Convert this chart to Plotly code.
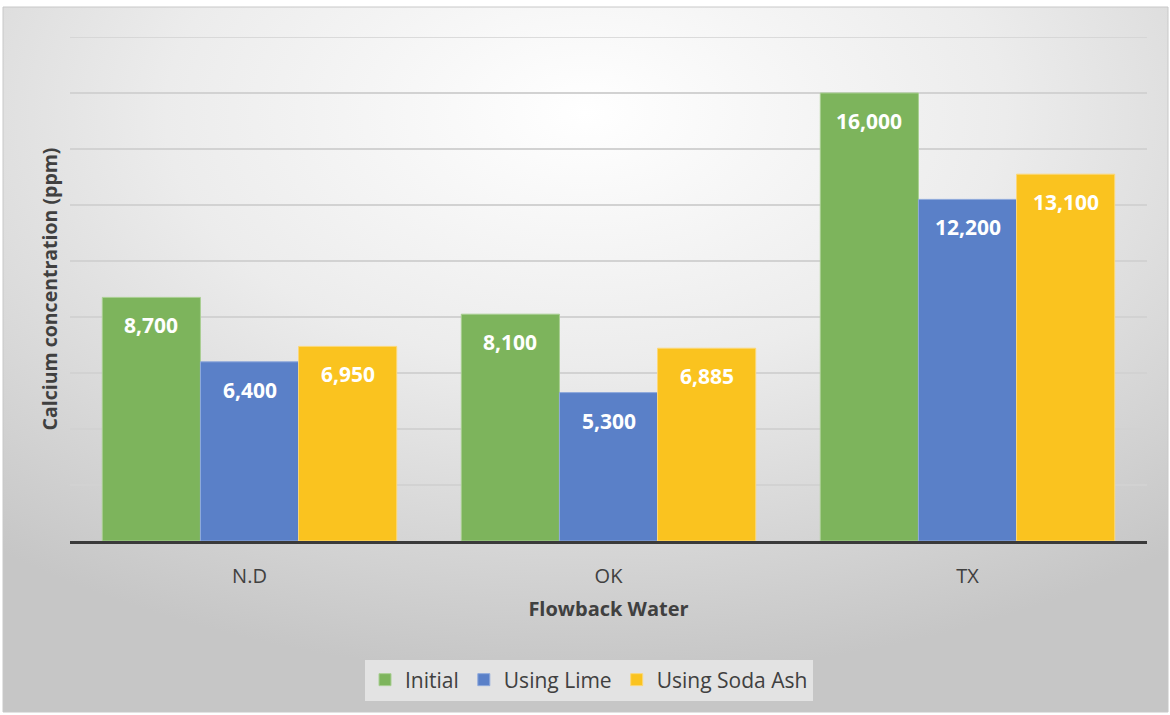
import base64
import plotly.graph_objects as go

categories = ["N.D", "OK", "TX"]
series_names = ["Initial", "Using Lime", "Using Soda Ash"]
initial = [8700, 8100, 16000]
lime = [6400, 5300, 12200]
soda = [6950, 6885, 13100]
series_values = [initial, lime, soda]
colors = ["#7DB45C", "#5A80C8", "#FAC31F"]
edge_colors = ["#A9CF92", "#8FA9DC", "#FCD877"]

W, H = 1170, 715
L, R, T, B = 70, 23, 37, 174
pw, ph = W - L - R, H - T - B
bargap = 0.18
y_max = 18000

fig = go.Figure()
for name, vals, c, ec in zip(series_names, series_values, colors, edge_colors):
    fig.add_trace(go.Bar(name=name, x=categories, y=vals, marker=dict(color=c, line=dict(color=ec, width=1))))

# data labels
cat_px = pw / len(categories)
bar_px = cat_px * (1 - bargap) / 3
annotations = []
for i, vals in enumerate(series_values):
    for cat, v in zip(categories, vals):
        annotations.append(dict(x=cat, y=v, xref="x", yref="y", text=f"<b>{v:,}</b>",
                                showarrow=False, xshift=(i - 1) * bar_px, yshift=-28,
                                font=dict(family="Open Sans", size=21, color="white")))

# gradient background
svg = ('<svg xmlns="http://www.w3.org/2000/svg" width="1165" height="705" viewBox="0 0 1165 705" preserveAspectRatio="none">'
       '<defs><radialGradient id="g" cx="50%" cy="15%" r="80%" fx="50%" fy="15%">'
       '<stop offset="0%" stop-color="#ffffff"/><stop offset="45%" stop-color="#ececec"/>'
       '<stop offset="100%" stop-color="#c6c6c6"/></radialGradient></defs>'
       '<rect width="1165" height="705" fill="url(#g)"/></svg>')
src = "data:image/svg+xml;base64," + base64.b64encode(svg.encode()).decode()

def px2x(p):
    return (p - L) / pw

def py2y(p):
    return (H - B - p) / ph

fig.update_layout(
    width=W, height=H,
    margin=dict(l=L, r=R, t=T, b=B),
    paper_bgcolor="white", plot_bgcolor="rgba(0,0,0,0)",
    barmode="group", bargap=bargap, bargroupgap=0,
    font=dict(family="Open Sans", color="#404040"),
    images=[dict(source=src, xref="paper", yref="paper", x=px2x(3), y=py2y(7),
                 sizex=(1168 - 3) / pw, sizey=(712 - 7) / ph, xanchor="left", yanchor="top",
                 sizing="stretch", layer="below")],
    shapes=[dict(type="rect", xref="paper", yref="paper", x0=px2x(3), x1=px2x(1168),
                 y0=py2y(712), y1=py2y(7), line=dict(color="#c8c8c8", width=1), layer="below"),
            dict(type="line", xref="paper", yref="y", x0=0, x1=1, y0=y_max, y1=y_max,
                 line=dict(color="#d2d2d2", width=1.5), layer="below")],
    xaxis=dict(showline=True, linecolor="#3a3a3a", linewidth=3, ticks="",
               ticklabelstandoff=15,
               tickfont=dict(size=20, color="#404040"),
               title=dict(text="<b>Flowback Water</b>", font=dict(size=20, color="#404040"), standoff=14)),
    yaxis=dict(range=[0, y_max], dtick=2000, showticklabels=False, showgrid=True,
               gridcolor="#d2d2d2", gridwidth=1.5, zeroline=False,
               title=dict(text="<b>Calcium concentration (ppm)</b>", font=dict(size=19.5, color="#404040"), standoff=6)),
    legend=dict(orientation="h", x=px2x(589), xanchor="center", y=py2y(680), yanchor="middle",
                bgcolor="rgba(236,236,236,0.75)", font=dict(size=21, color="#404040"),
                itemwidth=30, traceorder="normal"),
    annotations=annotations,
)

fig.write_html("out.html", config={"displayModeBar": False},
               post_script="document.body.style.margin='0';")
